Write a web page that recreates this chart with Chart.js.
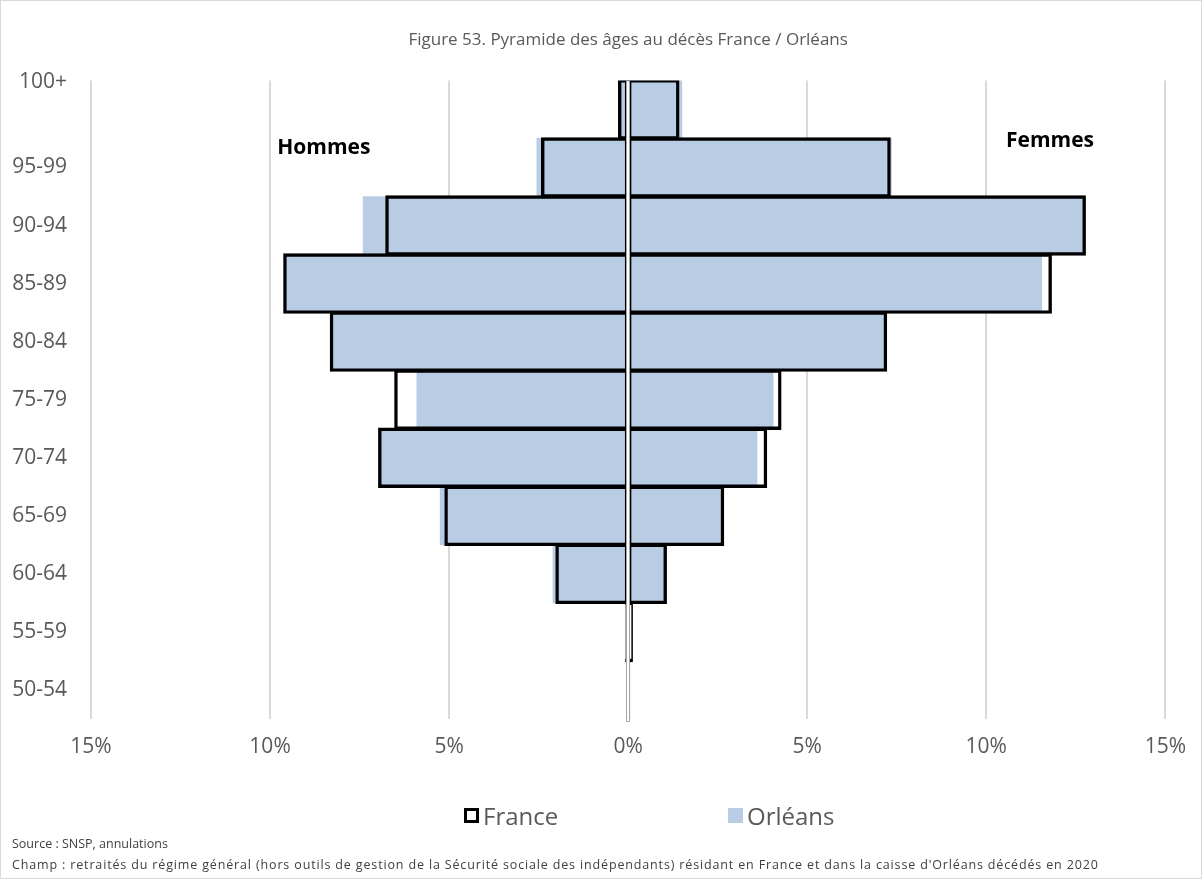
<!DOCTYPE html>
<html>
<head>
<meta charset="utf-8">
<script src="https://cdn.jsdelivr.net/npm/chart.js@4.4.1/dist/chart.umd.min.js"></script>
<style>
  body { margin: 0; background: #fff; font-family: 'Open Sans', sans-serif; }
  #wrap { position: relative; width: 1200px; height: 877px; border: 1px solid #d9d9d9; overflow: hidden; }
  #chart { position: absolute; left: 0; top: 0; }
  #legend { position: absolute; top: 798px; left: 0; width: 1200px; height: 34px; }
  .item { position: absolute; top: 0; display: flex; align-items: center; font-size: 24px; color: #595959; }
  .box { width: 15px; height: 15px; margin-right: 4px; box-sizing: border-box; }
  .note { position: absolute; left: 11px; font-size: 12.5px; color: #404040; white-space: nowrap; }
</style>
</head>
<body>
<div id="wrap">
  <canvas id="chart" width="1200" height="877"></canvas>
  <div id="legend"></div>
  <div class="note" style="top:834px">Source : SNSP, annulations</div>
  <div class="note" style="top:855px;letter-spacing:0.85px">Champ : retraités du régime général (hors outils de gestion de la Sécurité sociale des indépendants) résidant en France et dans la caisse d'Orléans décédés en 2020</div>
</div>
<script>
const ageGroups = ['100+', '95-99', '90-94', '85-89', '80-84', '75-79', '70-74', '65-69', '60-64', '55-59', '50-54'];

// % of deaths, men shown on the left (negative)
const franceHommes = [-0.25, -2.4, -6.75, -9.6, -8.3, -6.5, -6.95, -5.1, -2.0, -0.05, -0.01];
const orleansHommes = [-0.2, -2.55, -7.4, -9.6, -8.3, -5.9, -6.95, -5.25, -2.1, 0, 0];
const franceFemmes = [1.4, 7.3, 12.75, 11.8, 7.2, 4.25, 3.85, 2.65, 1.05, 0.1, 0.02];
const orleansFemmes = [1.5, 7.35, 12.7, 11.55, 7.2, 4.05, 3.6, 2.65, 1.05, 0, 0];

const xTicks = [-15, -10, -5, 0, 5, 10, 15];

const blue = '#b8cce4';
const grey = '#595959';

const barBase = {
  grouped: false,
  categoryPercentage: 1,
  barPercentage: 1,
  borderSkipped: false
};

// outline roughly centred on the bar edge, like Excel does
// (chart.js border = borderWidth + 2 * inflateAmount)
const outline = { backgroundColor: 'rgba(0,0,0,0)', borderColor: '#000', borderWidth: 1, inflateAmount: 1.2 };

// center axis + side labels + misplaced top label as in the original
const extras = {
  id: 'extras',
  afterDatasetsDraw(chart) {
    const { ctx, chartArea, scales: { x, y } } = chart;
    const x0 = Math.round(x.getPixelForValue(0));
    ctx.save();
    ctx.strokeStyle = '#a6a6a6';
    ctx.lineWidth = 4;
    ctx.beginPath();
    ctx.moveTo(x0, chartArea.top);
    ctx.lineTo(x0, chartArea.bottom + 3);
    ctx.stroke();
    ctx.strokeStyle = '#ffffff';
    ctx.lineWidth = 2;
    ctx.beginPath();
    ctx.moveTo(x0, chartArea.top + 1);
    ctx.lineTo(x0, chartArea.bottom + 2);
    ctx.stroke();

    ctx.fillStyle = '#000';
    ctx.font = 'bold 21px "Open Sans"';
    ctx.textBaseline = 'middle';
    ctx.textAlign = 'left';
    ctx.fillText('Hommes', x.getPixelForValue(-9.8), y.getPixelForValue(1) - 19);
    ctx.fillText('Femmes', x.getPixelForValue(10.55), y.getPixelForValue(1) - 26);

    ctx.fillStyle = grey;
    ctx.font = '21px "Open Sans"';
    ctx.textAlign = 'right';
    ctx.fillText(ageGroups[0], y.right - 24, chartArea.top + 2);
    ctx.restore();
  }
};

new Chart(document.getElementById('chart'), {
  type: 'bar',
  data: {
    labels: ageGroups,
    datasets: [
      { ...barBase, ...outline, label: 'France', data: franceHommes },
      { ...barBase, label: 'Orléans', data: orleansHommes, backgroundColor: blue, borderWidth: 0 },
      { ...barBase, ...outline, label: 'France', data: franceFemmes },
      { ...barBase, label: 'Orléans', data: orleansFemmes, backgroundColor: blue, borderWidth: 0 }
    ]
  },
  options: {
    indexAxis: 'y',
    responsive: false,
    animation: false,
    layout: { padding: { left: 0, right: 32, top: 0, bottom: 109 } },
    plugins: {
      legend: { display: false },
      tooltip: { enabled: false },
      title: {
        display: true,
        fullSize: false,
        text: 'Figure 53. Pyramide des âges au décès France / Orléans',
        color: grey,
        font: { family: 'Open Sans', size: 17, weight: 'normal' },
        padding: { top: 29, bottom: 30 }
      }
    },
    scales: {
      x: {
        min: -15,
        max: 15,
        afterBuildTicks: s => { s.ticks = xTicks.map(v => ({ value: v })); },
        afterFit: s => { s.height = 50; },
        border: { display: false },
        grid: { color: '#d9d9d9', lineWidth: 2, drawTicks: false },
        ticks: {
          color: grey,
          padding: 15,
          font: { family: 'Open Sans', size: 21 },
          callback: v => Math.abs(v) + '%'
        }
      },
      y: {
        afterFit: s => { s.width = 90; },
        border: { display: false },
        grid: { display: false, drawTicks: false },
        ticks: {
          color: grey,
          padding: 24,
          font: { family: 'Open Sans', size: 21 },
          callback: function (v, i) { return i === 0 ? '' : this.getLabelForValue(v); }
        }
      }
    }
  },
  plugins: [extras]
});

// legend as in the source: two entries spread apart
const legendItems = [
  { label: 'France', left: 463, style: 'border:3px solid #000;background:#fff' },
  { label: 'Orléans', left: 727, style: 'background:' + blue }
];
const legend = document.getElementById('legend');
legendItems.forEach(it => {
  const d = document.createElement('div');
  d.className = 'item';
  d.style.left = it.left + 'px';
  d.innerHTML = '<span class="box" style="' + it.style + '"></span>' + it.label;
  legend.appendChild(d);
});
</script>
</body>
</html>
